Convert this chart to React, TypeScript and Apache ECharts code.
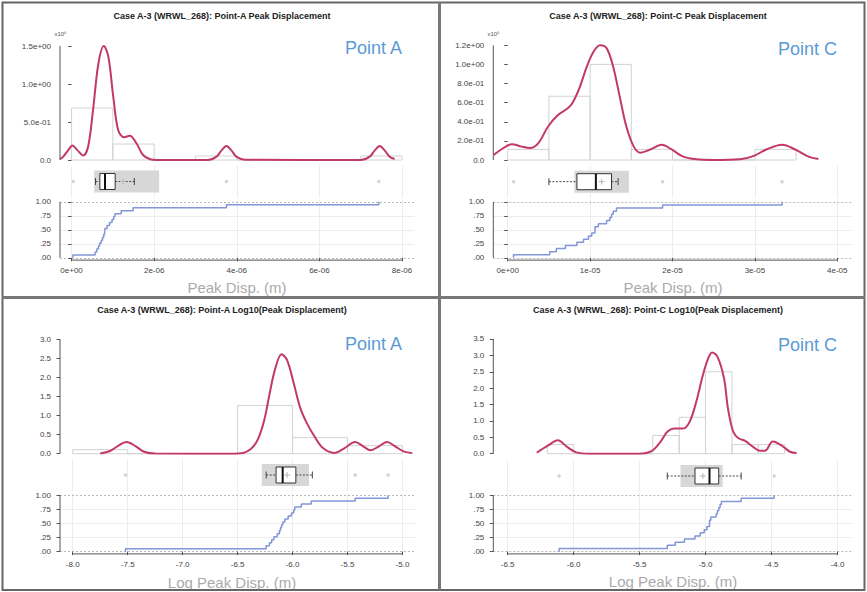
import React, { useEffect, useRef } from "react";
import * as echarts from "echarts";

// ---------------- data ----------------
const titles = [
  "Case A-3 (WRWL_268): Point-A Peak Displacement",
  "Case A-3 (WRWL_268): Point-C Peak Displacement",
  "Case A-3 (WRWL_268): Point-A Log10(Peak Displacement)",
  "Case A-3 (WRWL_268): Point-C Log10(Peak Displacement)",
];
const pointLabels = ["Point A", "Point C", "Point A", "Point C"];
const xTitles = ["Peak Disp. (m)", "Peak Disp. (m)", "Log Peak Disp. (m)", "Log Peak Disp. (m)"];
const multipliers = ["x10\u2076", "x10\u2075", "", ""];

const ecdfTicks = [0, 0.25, 0.5, 0.75, 1];
const ecdfLabels = [".00", ".25", ".50", ".75", "1.00"];

// Panel 1 (x in 1e-6 m, density in x10^6)
const p1XTicks = [0, 2, 4, 6, 8];
const p1XLabels = ["0e+00", "2e-06", "4e-06", "6e-06", "8e-06"];
const p1YTicks = [0, 0.5, 1, 1.5];
const p1YLabels = ["0.0", "5.0e-01", "1.0e+00", "1.5e+00"];
const p1BinEdges = [0, 1, 2, 3, 4, 5, 6, 7, 8];
const p1BinDensity = [0.684, 0.21, 0, 0.053, 0, 0, 0, 0.053];
const p1KdeX = [-0.28, -0.2, -0.08, 0.02, 0.14, 0.28, 0.4, 0.52, 0.65, 0.78, 0.89, 1.01, 1.13, 1.27, 1.41, 1.57, 1.73, 1.9, 2.06, 3.3, 3.51, 3.63, 3.75, 3.87, 3.99, 4.2, 7.0, 7.22, 7.34, 7.46, 7.58, 7.7, 7.82];
const p1KdeY = [0.012, 0.045, 0.13, 0.19, 0.13, 0.06, 0.175, 0.66, 1.27, 1.5, 1.36, 0.83, 0.39, 0.3, 0.32, 0.22, 0.066, 0.01, 0, 0, 0.044, 0.127, 0.184, 0.127, 0.044, 0.003, 0, 0.044, 0.127, 0.184, 0.127, 0.044, 0.013];
const p1Samples = [0.03, 0.57, 0.61, 0.65, 0.68, 0.72, 0.75, 0.78, 0.8, 0.81, 0.86, 0.92, 0.98, 1.02, 1.05, 1.2, 1.49, 3.75, 7.44];
const p1BoxStats = [0.58, 0.685, 0.81, 1.056, 1.52]; // whisker lo, q1, median, q3, whisker hi
const p1BoxShade = [0.547, 2.12];
const p1Mean = 1.25;
const p1Outliers = [0.04, 3.75, 7.44];

// Panel 2 (x in 1e-5 m, density in x10^5)
const p2XTicks = [0, 1, 2, 3, 4];
const p2XLabels = ["0e+00", "1e-05", "2e-05", "3e-05", "4e-05"];
const p2YTicks = [0, 0.2, 0.4, 0.6, 0.8, 1.0, 1.2];
const p2YLabels = ["0.0", "2.0e-01", "4.0e-01", "6.0e-01", "8.0e-01", "1.0e+00", "1.2e+00"];
const p2BinEdges = [0, 0.5, 1, 1.5, 2, 2.5, 3, 3.5];
const p2BinDensity = [0.111, 0.667, 1.0, 0.111, 0, 0, 0.111];
const p2KdeX = [-0.17, -0.07, 0.05, 0.17, 0.27, 0.37, 0.49, 0.61, 0.76, 0.86, 0.96, 1.04, 1.12, 1.2, 1.28, 1.36, 1.44, 1.53, 1.61, 1.73, 1.87, 1.99, 2.13, 2.29, 2.5, 2.82, 2.98, 3.14, 3.33, 3.49, 3.65, 3.77];
const p2KdeY = [0.052, 0.115, 0.164, 0.14, 0.126, 0.174, 0.35, 0.47, 0.565, 0.73, 0.976, 1.13, 1.2, 1.17, 0.976, 0.66, 0.35, 0.14, 0.077, 0.11, 0.16, 0.11, 0.035, 0.007, 0, 0.007, 0.04, 0.11, 0.16, 0.11, 0.035, 0.01];
const p2Samples = [0.07, 0.51, 0.59, 0.7, 0.84, 0.92, 0.98, 1.02, 1.06, 1.06, 1.1, 1.2, 1.24, 1.26, 1.28, 1.32, 1.88, 3.33];
const p2BoxStats = [0.5, 0.84, 1.07, 1.26, 1.34];
const p2BoxShade = [0.81, 1.47];
const p2Mean = 1.14;
const p2Outliers = [0.07, 1.88, 3.33];

// Panel 3 (log10 m)
const p3XTicks = [-8, -7.5, -7, -6.5, -6, -5.5, -5];
const p3XLabels = ["-8.0", "-7.5", "-7.0", "-6.5", "-6.0", "-5.5", "-5.0"];
const p3YTicks = [0, 0.5, 1, 1.5, 2, 2.5, 3];
const p3YLabels = ["0.0", "0.5", "1.0", "1.5", "2.0", "2.5", "3.0"];
const p3BinEdges = [-8, -7.5, -7, -6.5, -6, -5.5, -5];
const p3BinDensity = [0.105, 0, 0, 1.263, 0.421, 0.211];
const p3KdeX = [-7.75, -7.66, -7.59, -7.51, -7.43, -7.35, -7.25, -6.55, -6.45, -6.38, -6.32, -6.26, -6.21, -6.16, -6.1, -6.05, -5.99, -5.93, -5.87, -5.8, -5.72, -5.62, -5.53, -5.43, -5.36, -5.29, -5.21, -5.14, -5.07, -4.99, -4.91];
const p3KdeY = [0.005, 0.07, 0.2, 0.305, 0.2, 0.05, 0.003, 0, 0.02, 0.12, 0.35, 0.85, 1.55, 2.2, 2.6, 2.45, 1.85, 1.2, 0.8, 0.45, 0.14, 0.02, 0.14, 0.305, 0.2, 0.09, 0.2, 0.305, 0.2, 0.06, 0.015];
const p3Samples = [-7.52, -6.24, -6.21, -6.19, -6.17, -6.14, -6.12, -6.11, -6.1, -6.09, -6.07, -6.04, -6.01, -5.99, -5.98, -5.92, -5.83, -5.43, -5.13];
const p3BoxStats = [-6.24, -6.15, -6.09, -5.97, -5.82];
const p3BoxShade = [-6.28, -5.85];
const p3Mean = -6.05;
const p3Outliers = [-7.52, -5.43, -5.13];

// Panel 4 (log10 m)
const p4XTicks = [-6.5, -6, -5.5, -5, -4.5, -4];
const p4XLabels = ["-6.5", "-6.0", "-5.5", "-5.0", "-4.5", "-4.0"];
const p4YTicks = [0, 0.5, 1, 1.5, 2, 2.5, 3, 3.5];
const p4YLabels = ["0.0", "0.5", "1.0", "1.5", "2.0", "2.5", "3.0", "3.5"];
const p4BinEdges = [-6.2, -6.0, -5.8, -5.6, -5.4, -5.2, -5.0, -4.8, -4.6, -4.4];
const p4BinDensity = [0.278, 0, 0, 0, 0.556, 1.111, 2.5, 0.278, 0.278];
const p4KdeX = [-6.28, -6.19, -6.12, -6.05, -5.98, -5.88, -5.5, -5.41, -5.34, -5.29, -5.24, -5.17, -5.12, -5.07, -5.02, -4.98, -4.95, -4.91, -4.86, -4.83, -4.79, -4.75, -4.7, -4.64, -4.59, -4.55, -4.49, -4.42, -4.36, -4.31];
const p4KdeY = [0.03, 0.26, 0.41, 0.21, 0.04, 0, 0, 0.08, 0.37, 0.67, 0.77, 0.77, 0.98, 1.59, 2.4, 2.91, 3.09, 2.96, 2.3, 1.38, 0.67, 0.47, 0.39, 0.21, 0.09, 0.09, 0.37, 0.24, 0.06, 0.02];
const p4Samples = [-6.11, -5.29, -5.23, -5.16, -5.08, -5.04, -5.01, -4.99, -4.97, -4.97, -4.96, -4.92, -4.91, -4.9, -4.89, -4.88, -4.73, -4.48];
const p4BoxStats = [-5.29, -5.08, -4.97, -4.9, -4.73];
const p4BoxShade = [-5.19, -4.87];
const p4Mean = -5.02;
const p4Outliers = [-6.11, -4.48];

// ---------------- layout (pixels) ----------------
const layouts = [
  { left: 60, width: 354.4, xMin: -0.28, xMax: 8.3, densTop: 40, densH: 120, densYMax: 1.579, boxTop: 165.5, ecdfTop: 199.6, ecdfH: 60.5, titleX: 222, titleY: 16, pointX: 402, pointY: 48, xTitleX: 237, xTitleY: 287, multX: 60.5, multY: 34 },
  { left: 493.3, width: 358.4, xMin: -0.175, xMax: 4.175, densTop: 40, densH: 120, densYMax: 1.255, boxTop: 165.7, ecdfTop: 199.6, ecdfH: 60.5, titleX: 658, titleY: 16, pointX: 837, pointY: 49, xTitleX: 673, xTitleY: 287, multX: 493.5, multY: 34 },
  { left: 60, width: 355.1, xMin: -8.116, xMax: -4.885, densTop: 335, densH: 118.7, densYMax: 3.105, boxTop: 459, ecdfTop: 492.9, ecdfH: 61, titleX: 222, titleY: 310, pointX: 402, pointY: 344, xTitleX: 232, xTitleY: 582, multX: 60, multY: 330 },
  { left: 493.3, width: 358.4, xMin: -6.609, xMax: -3.892, densTop: 335, densH: 118.7, densYMax: 3.622, boxTop: 460, ecdfTop: 492.9, ecdfH: 61, titleX: 658, titleY: 310, pointX: 837, pointY: 345, xTitleX: 673, xTitleY: 581, multX: 493, multY: 330 },
];
const BOX_H = 32;

const panels = [
  { xTicks: p1XTicks, xLabels: p1XLabels, yTicks: p1YTicks, yLabels: p1YLabels, edges: p1BinEdges, dens: p1BinDensity, kx: p1KdeX, ky: p1KdeY, samples: p1Samples, box: p1BoxStats, shade: p1BoxShade, mean: p1Mean, outliers: p1Outliers },
  { xTicks: p2XTicks, xLabels: p2XLabels, yTicks: p2YTicks, yLabels: p2YLabels, edges: p2BinEdges, dens: p2BinDensity, kx: p2KdeX, ky: p2KdeY, samples: p2Samples, box: p2BoxStats, shade: p2BoxShade, mean: p2Mean, outliers: p2Outliers },
  { xTicks: p3XTicks, xLabels: p3XLabels, yTicks: p3YTicks, yLabels: p3YLabels, edges: p3BinEdges, dens: p3BinDensity, kx: p3KdeX, ky: p3KdeY, samples: p3Samples, box: p3BoxStats, shade: p3BoxShade, mean: p3Mean, outliers: p3Outliers },
  { xTicks: p4XTicks, xLabels: p4XLabels, yTicks: p4YTicks, yLabels: p4YLabels, edges: p4BinEdges, dens: p4BinDensity, kx: p4KdeX, ky: p4KdeY, samples: p4Samples, box: p4BoxStats, shade: p4BoxShade, mean: p4Mean, outliers: p4Outliers },
];

const FONT = '"Liberation Sans", Arial, Helvetica, sans-serif';
const KDE_COLOR = "#c23a63";
const ECDF_COLOR = "#8296d8";
const AXIS_COLOR = "#555";
const LABEL_COLOR = "#444";

const fmt = (ticks: number[], labels: string[]) => (v: number) => {
  const i = ticks.findIndex((t) => Math.abs(t - v) < 1e-6);
  return i >= 0 ? labels[i] : "";
};

function ecdfPoints(samples: number[]) {
  const s = [...samples].sort((a, b) => a - b);
  const n = s.length;
  const pts: number[][] = [[s[0], 0]];
  s.forEach((x, i) => {
    pts.push([x, i / n]);
    pts.push([x, (i + 1) / n]);
  });
  return pts;
}

function buildOption() {
  const grid: any[] = [];
  const xAxis: any[] = [];
  const yAxis: any[] = [];
  const series: any[] = [];
  const graphic: any[] = [];

  panels.forEach((p, k) => {
    const L = layouts[k];
    const gD = 3 * k, gB = 3 * k + 1, gE = 3 * k + 2;
    grid.push({ left: L.left, top: L.densTop, width: L.width, height: L.densH, outerBoundsMode: "none" });
    grid.push({ left: L.left, top: L.boxTop, width: L.width, height: BOX_H, outerBoundsMode: "none" });
    grid.push({ left: L.left, top: L.ecdfTop, width: L.width, height: L.ecdfH, outerBoundsMode: "none" });

    const hiddenX = { type: "value", min: L.xMin, max: L.xMax, show: false };
    xAxis.push({ ...hiddenX, gridIndex: gD });
    xAxis.push({ ...hiddenX, gridIndex: gB });
    xAxis.push({
      type: "value", gridIndex: gE, min: L.xMin, max: L.xMax,
      axisLine: { show: false }, splitLine: { show: false },
      axisTick: { show: true, customValues: p.xTicks, length: 3.5, lineStyle: { color: AXIS_COLOR, width: 1 } },
      axisLabel: { show: true, customValues: p.xTicks, formatter: fmt(p.xTicks, p.xLabels), fontSize: 8, color: LABEL_COLOR, margin: 6.5, fontFamily: FONT },
    });

    yAxis.push({
      type: "value", gridIndex: gD, min: 0, max: L.densYMax,
      axisLine: { show: false }, splitLine: { show: false },
      axisTick: { show: true, customValues: p.yTicks, length: 3.5, lineStyle: { color: AXIS_COLOR, width: 1 } },
      axisLabel: { show: true, customValues: p.yTicks, formatter: fmt(p.yTicks, p.yLabels), fontSize: 8, color: LABEL_COLOR, margin: 9, fontFamily: FONT },
    });
    yAxis.push({ type: "value", gridIndex: gB, min: 0, max: 1, show: false });
    yAxis.push({
      type: "value", gridIndex: gE, min: -0.04, max: 1.04,
      axisLine: { show: false }, splitLine: { show: false },
      axisTick: { show: true, customValues: ecdfTicks, length: 3.5, lineStyle: { color: AXIS_COLOR, width: 1 } },
      axisLabel: { show: true, customValues: ecdfTicks, formatter: fmt(ecdfTicks, ecdfLabels), fontSize: 8, color: LABEL_COLOR, margin: 9, fontFamily: FONT },
    });

    const lastX = p.xTicks[p.xTicks.length - 1];
    const lastY = p.yTicks[p.yTicks.length - 1];

    // histogram
    series.push({
      type: "custom", xAxisIndex: gD, yAxisIndex: gD, z: 1, silent: true,
      data: p.dens.map((h, i) => [p.edges[i], p.edges[i + 1], h]),
      encode: { x: [0, 1], y: 2 },
      renderItem: (_params: any, api: any) => {
        const a = api.coord([api.value(0), 0]);
        const b = api.coord([api.value(1), api.value(2)]);
        return {
          type: "rect",
          shape: { x: a[0], y: b[1], width: b[0] - a[0], height: a[1] - b[1] },
          style: { fill: "rgba(255,255,255,0)", stroke: "#d2d2d2", lineWidth: 1 },
        };
      },
    });
    // density curve
    series.push({
      type: "line", xAxisIndex: gD, yAxisIndex: gD, z: 3, silent: true,
      data: p.kx.map((x, i) => [x, p.ky[i]]),
      smooth: 0.35, showSymbol: false, symbol: "none",
      lineStyle: { color: KDE_COLOR, width: 2 },
    });
    // density y axis line
    series.push({
      type: "line", xAxisIndex: gD, yAxisIndex: gD, z: 2, silent: true, clip: false,
      data: [[L.xMin, 0], [L.xMin, lastY]], symbol: "none",
      lineStyle: { color: AXIS_COLOR, width: 1 },
    });

    // boxplot
    series.push({
      type: "custom", xAxisIndex: gB, yAxisIndex: gB, z: 3, silent: true,
      data: [[p.shade[0], p.shade[1], p.box[0], p.box[1], p.box[2], p.box[3], p.box[4], p.mean]],
      renderItem: (_params: any, api: any) => {
        const X = (i: number) => api.coord([api.value(i), 0.5])[0];
        const cy = api.coord([api.value(3), 0.5])[1];
        const sLo = X(0), sHi = X(1), wLo = X(2), q1 = X(3), md = X(4), q3 = X(5), wHi = X(6), mn = X(7);
        const dash = { stroke: "#444", lineWidth: 1, lineDash: [2, 1.5] };
        const solid = { stroke: "#444", lineWidth: 1 };
        return {
          type: "group",
          children: [
            { type: "rect", shape: { x: sLo, y: cy - 11, width: sHi - sLo, height: 22 }, style: { fill: "#d7d7d7" } },
            { type: "line", shape: { x1: wLo, y1: cy, x2: q1, y2: cy }, style: dash },
            { type: "line", shape: { x1: q3, y1: cy, x2: wHi, y2: cy }, style: dash },
            { type: "line", shape: { x1: wLo, y1: cy - 3.5, x2: wLo, y2: cy + 3.5 }, style: solid },
            { type: "line", shape: { x1: wHi, y1: cy - 3.5, x2: wHi, y2: cy + 3.5 }, style: solid },
            { type: "rect", shape: { x: q1, y: cy - 8, width: q3 - q1, height: 16 }, style: { fill: "#fff", stroke: "#333", lineWidth: 1 } },
            { type: "line", shape: { x1: mn - 3, y1: cy, x2: mn + 3, y2: cy }, style: { stroke: "#b5b5b5", lineWidth: 1 } },
            { type: "line", shape: { x1: mn, y1: cy - 3, x2: mn, y2: cy + 3 }, style: { stroke: "#b5b5b5", lineWidth: 1 } },
            { type: "line", shape: { x1: md, y1: cy - 8, x2: md, y2: cy + 8 }, style: { stroke: "#111", lineWidth: 2 } },
          ],
        };
      },
    });
    // outliers + vertical grid lines in box strip
    series.push({
      type: "scatter", xAxisIndex: gB, yAxisIndex: gB, z: 4, silent: true,
      data: p.outliers.map((v) => [v, 0.5]),
      symbol: "circle", symbolSize: 3.5,
      itemStyle: { color: "#c9c9c9" },
      markLine: {
        silent: true, symbol: ["none", "none"], label: { show: false }, z: 0, animation: false,
        lineStyle: { color: "#ededed", width: 1, type: "solid" },
        data: p.xTicks.map((v) => ({ xAxis: v })),
      },
    });

    // ECDF axis lines + grid lines
    series.push({
      type: "line", xAxisIndex: gE, yAxisIndex: gE, z: 2, silent: true, clip: false,
      data: [[p.xTicks[0], -0.04], [lastX, -0.04]], symbol: "none",
      lineStyle: { color: AXIS_COLOR, width: 1 },
      markLine: {
        silent: true, symbol: ["none", "none"], label: { show: false }, z: 0, animation: false,
        data: [
          ...p.xTicks.map((v) => ({ xAxis: v, lineStyle: { color: "#ededed", width: 1, type: "solid" } })),
          ...ecdfTicks.map((v) =>
            v === 0 || v === 1
              ? { yAxis: v, lineStyle: { color: "#b8b8b8", width: 1, type: [2, 2] } }
              : { yAxis: v, lineStyle: { color: "#ededed", width: 1, type: "solid" } }
          ),
        ],
      },
    });
    series.push({
      type: "line", xAxisIndex: gE, yAxisIndex: gE, z: 2, silent: true, clip: false,
      data: [[L.xMin, 0], [L.xMin, 1]], symbol: "none",
      lineStyle: { color: AXIS_COLOR, width: 1 },
    });
    // ECDF
    series.push({
      type: "line", xAxisIndex: gE, yAxisIndex: gE, z: 3, silent: true,
      data: ecdfPoints(p.samples), symbol: "none", showSymbol: false,
      lineStyle: { color: ECDF_COLOR, width: 1.5 },
    });

    // texts
    graphic.push({
      type: "text", x: L.titleX, y: L.titleY, silent: true,
      style: { text: titles[k], fill: "#222", fontSize: 9, fontWeight: "bold", fontFamily: FONT, textAlign: "center", textVerticalAlign: "middle", align: "center", verticalAlign: "middle" },
    });
    graphic.push({
      type: "text", x: L.pointX, y: L.pointY, silent: true,
      style: { text: pointLabels[k], fill: "#5b9bd5", fontSize: 18, fontFamily: FONT, textAlign: "right", textVerticalAlign: "middle", align: "right", verticalAlign: "middle" },
    });
    graphic.push({
      type: "text", x: L.xTitleX, y: L.xTitleY, silent: true,
      style: { text: xTitles[k], fill: "#aaaaaa", fontSize: 15, fontFamily: FONT, textAlign: "center", textVerticalAlign: "middle", align: "center", verticalAlign: "middle" },
    });
    if (multipliers[k]) {
      graphic.push({
        type: "text", x: L.multX, y: L.multY, silent: true,
        style: { text: multipliers[k], fill: "#555", fontSize: 6, fontFamily: FONT, textAlign: "center", textVerticalAlign: "middle", align: "center", verticalAlign: "middle" },
      });
    }
  });

  // panel frames
  graphic.push({ type: "rect", silent: true, shape: { x: 2.5, y: 2.5, width: 862, height: 587.5 }, style: { fill: "none", stroke: "#666", lineWidth: 2 } });
  graphic.push({ type: "line", silent: true, shape: { x1: 439.5, y1: 2, x2: 439.5, y2: 590 }, style: { stroke: "#777", lineWidth: 3 } });
  graphic.push({ type: "line", silent: true, shape: { x1: 2, y1: 297.5, x2: 865, y2: 297.5 }, style: { stroke: "#777", lineWidth: 3 } });

  return {
    animation: false,
    backgroundColor: "#ffffff",
    textStyle: { fontFamily: FONT },
    grid, xAxis, yAxis, series, graphic,
  };
}

export default function App() {
  const ref = useRef<HTMLDivElement>(null);
  useEffect(() => {
    if (!ref.current) return;
    const chart = echarts.init(ref.current, null, { renderer: "svg" });
    chart.setOption(buildOption() as any);
    return () => chart.dispose();
  }, []);
  return (
    <div
      ref={ref}
      style={{ position: "fixed", left: 0, top: 0, width: 867, height: 592, background: "#fff" }}
    />
  );
}
